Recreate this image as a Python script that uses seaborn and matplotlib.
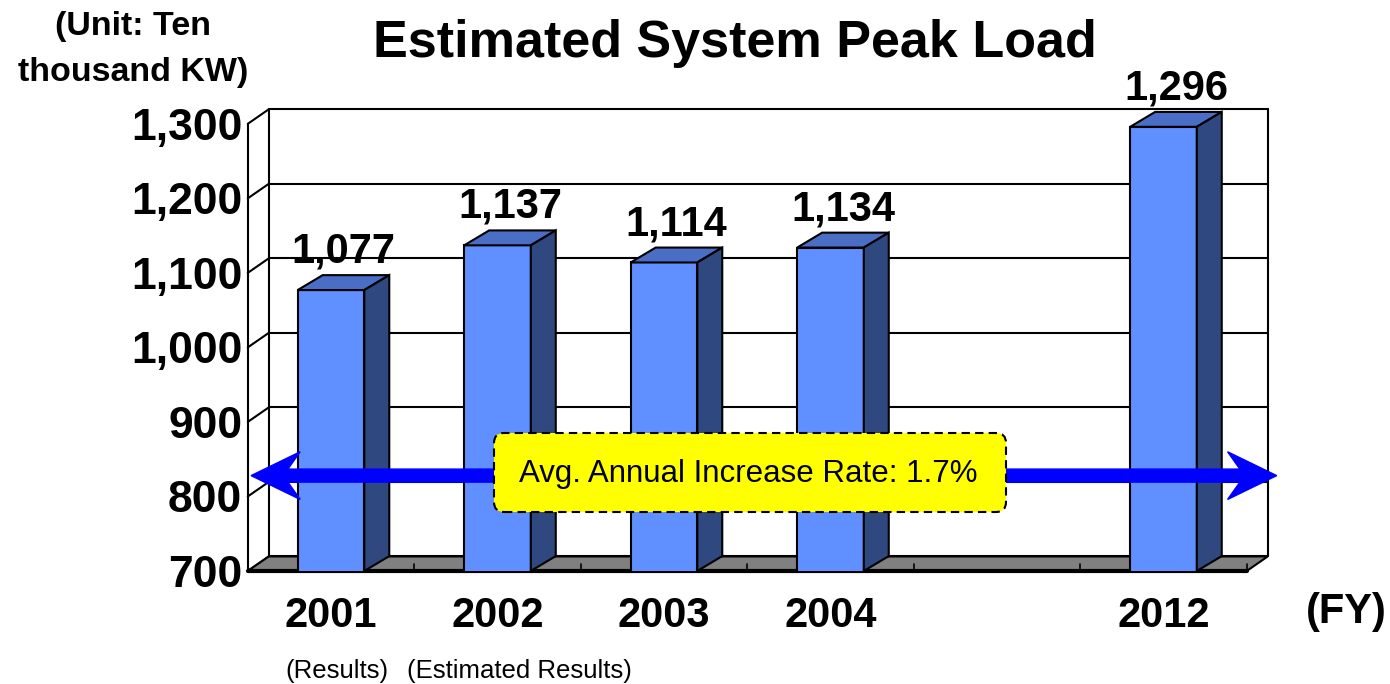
import matplotlib
matplotlib.use("Agg")
import matplotlib.pyplot as plt
import matplotlib.transforms as mtransforms
from matplotlib.patches import Polygon, FancyArrow, FancyBboxPatch, Rectangle
import numpy as np
import pandas as pd
import seaborn as sns

# ---- data -------------------------------------------------------------
years = ["2001", "2002", "2003", "2004", "2012"]
peak_load = [1077, 1137, 1114, 1134, 1296]
slot_order = ["2001", "2002", "2003", "2004", " ", "2012"]   # blank slot before 2012
y_ticks = [700, 800, 900, 1000, 1100, 1200, 1300]
y_tick_labels = ["700", "800", "900", "1,000", "1,100", "1,200", "1,300"]
value_labels = ["1,077", "1,137", "1,114", "1,134", "1,296"]
growth_note = "Avg. Annual Increase Rate: 1.7%"
arrow_level = 828

# ---- style -------------------------------------------------------------
sns.set_style("white")
plt.rcParams["font.family"] = ["Liberation Sans", "DejaVu Sans"]
plt.rcParams["text.color"] = "black"
plt.rcParams["xtick.color"] = "black"
plt.rcParams["ytick.color"] = "black"
plt.rcParams["axes.labelcolor"] = "black"

FRONT = "#6090FF"
TOP = "#4A6EC6"
SIDE = "#2F4880"
FLOOR = "#808080"

W, H = 1390, 684
fig = plt.figure(figsize=(W / 100, H / 100), dpi=100)
# axes: x slot i centred at i, y value 700 at bottom
ax = fig.add_axes([247.75 / W, (H - 571) / H, 1040.6 / W, 471 / H])

df = pd.DataFrame({"year": years, "load": peak_load})
sns.barplot(data=df, x="year", y="load", order=slot_order, width=0.4,
            color=FRONT, saturation=1, edgecolor="black", linewidth=1.5,
            errorbar=None, ax=ax, zorder=3)
bars = [p for p in ax.patches
        if isinstance(p, Rectangle) and np.isfinite(p.get_height()) and p.get_height() > 0]
bars.sort(key=lambda p: p.get_x())
ax.set_xlim(-0.5, 5.75)
ax.set_ylim(700, 1332)

# depth offsets (data units) for the pseudo-3D look
wdx, wdy = 0.126, 19.5     # walls / floor
bdx, bdy = 0.15, 20.0      # bars
x0, x1 = -0.5, 5.5
base = 700

# back wall, left wall and gridlines
edge = dict(color="black", lw=1.5, clip_on=False, zorder=1)
for v in y_ticks:
    ax.plot([x0, x0 + wdx], [v, v + wdy], **edge)
    ax.plot([x0 + wdx, x1 + wdx], [v + wdy, v + wdy], **edge)
ax.plot([x0 + wdx, x0 + wdx], [base + wdy, 1300 + wdy], **edge)
ax.plot([x1 + wdx, x1 + wdx], [base + wdy, 1300 + wdy], **edge)
ax.plot([x0, x0], [base, 1300], **edge)

# floor
ax.add_patch(Polygon([(x0, base), (x1, base), (x1 + wdx, base + wdy), (x0 + wdx, base + wdy)],
                     closed=True, facecolor=FLOOR, edgecolor="black", lw=1.5,
                     zorder=1.5, clip_on=False))
ax.plot([x0, x1], [base, base], color="black", lw=3, clip_on=False, zorder=2)
for b in np.arange(0.5, 6.0, 1.0):
    ax.plot([b, b], [base, base + 10], color="black", lw=1.2, zorder=2)

# top and side faces of each bar, plus value label
for p, lab in zip(bars, value_labels):
    xl, w, h = p.get_x(), p.get_width(), p.get_height()
    ax.add_patch(Polygon([(xl, h), (xl + w, h), (xl + w + bdx, h + bdy), (xl + bdx, h + bdy)],
                         closed=True, facecolor=TOP, edgecolor="black", lw=1.5, zorder=3))
    ax.add_patch(Polygon([(xl + w, base), (xl + w + bdx, base + bdy), (xl + w + bdx, h + bdy), (xl + w, h)],
                         closed=True, facecolor=SIDE, edgecolor="black", lw=1.5, zorder=3))
    ax.annotate(lab, (xl + w / 2 + bdx / 2, h + bdy), xytext=(0, 9), textcoords="offset points",
                ha="center", va="baseline", fontsize=30, fontweight="bold",
                annotation_clip=False, zorder=6)

# growth arrow (double-headed)
xc = 2.5
for tip in (-0.48, 5.68):
    ax.add_patch(FancyArrow(xc, arrow_level, tip - xc, 0, width=17.5, head_width=64,
                            head_length=0.295, overhang=0.25, length_includes_head=True,
                            color="#0000FF", zorder=4, clip_on=False))

# note box
box = FancyBboxPatch((494, H - 512), 512, 79, boxstyle="round,pad=0,rounding_size=10",
                     facecolor="#FFFF00", edgecolor="black", lw=1.5, linestyle=(0, (4, 2.5)),
                     transform=mtransforms.IdentityTransform(), zorder=5)
fig.add_artist(box)
fig.text(748 / W, 1 - 474 / H, growth_note, ha="center", va="center", fontsize=22.5, zorder=6)

# axes, ticks and labels
for s in ax.spines.values():
    s.set_visible(False)
ax.set_yticks(y_ticks, y_tick_labels)
ax.tick_params(axis="y", length=0, pad=4, labelsize=32)
for t in ax.get_yticklabels():
    t.set_fontweight("bold")
ax.set_xticks([0, 1, 2, 3, 5], years)
ax.tick_params(axis="x", length=0, pad=18, labelsize=30)
for t in ax.get_xticklabels():
    t.set_fontweight("bold")
ax.set_xlabel("")
ax.set_ylabel("")
ax.grid(False)

fig.text(1346 / W, 1 - 612 / H, "(FY)", ha="center", va="center", fontsize=30, fontweight="bold")
fig.text(735 / W, 1 - 44 / H, "Estimated System Peak Load", ha="center", va="center",
         fontsize=37.5, fontweight="bold")
fig.text(133 / W, 1 - 27 / H, "(Unit: Ten", ha="center", va="center", fontsize=24.5, fontweight="bold")
fig.text(133 / W, 1 - 73 / H, "thousand KW)", ha="center", va="center", fontsize=24.5, fontweight="bold")
fig.text(285 / W, 1 - 678 / H, "(Results)", ha="left", va="baseline", fontsize=18.5)
fig.text(407 / W, 1 - 678 / H, "(Estimated Results)", ha="left", va="baseline", fontsize=18.5)

fig.savefig("out.png", dpi=100)
